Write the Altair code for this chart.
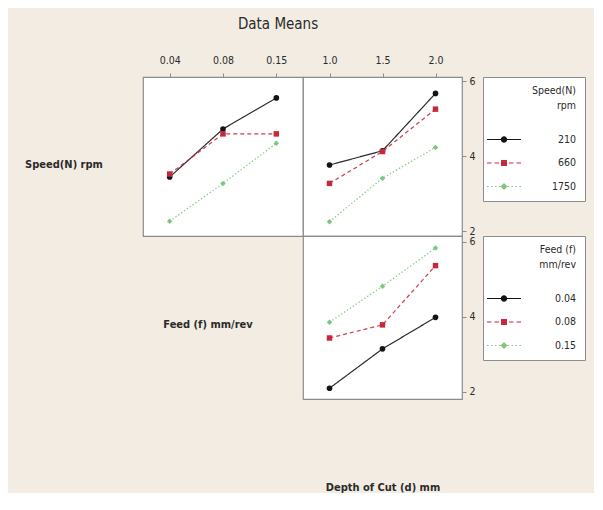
import altair as alt
import pandas as pd

# ---------------- data ----------------
speed_levels = ["210", "660", "1750"]
feed_levels = ["0.04", "0.08", "0.15"]
depth_levels = ["1.0", "1.5", "2.0"]

# Speed(N) means across Feed levels
speed210_by_feed = [3.44, 4.72, 5.55]
speed660_by_feed = [3.52, 4.59, 4.59]
speed1750_by_feed = [2.26, 3.27, 4.34]

# Speed(N) means across Depth of Cut levels
speed210_by_depth = [3.76, 4.14, 5.67]
speed660_by_depth = [3.27, 4.12, 5.25]
speed1750_by_depth = [2.25, 3.41, 4.23]

# Feed (f) means across Depth of Cut levels
feed004_by_depth = [2.10, 3.15, 3.99]
feed008_by_depth = [3.44, 3.79, 5.37]
feed015_by_depth = [3.86, 4.82, 5.84]

y_ticks = [2, 4, 6]
top_ydomain = [1.867, 6.107]
bottom_ydomain = [1.813, 6.16]

title_text = "Data Means"
speed_label = "Speed(N) rpm"
feed_label = "Feed (f) mm/rev"
depth_label = "Depth of Cut (d) mm"
speed_legend_title = ["Speed(N)", "rpm"]
feed_legend_title = ["Feed (f)", "mm/rev"]

# ---------------- styling ----------------
FONT = "Liberation Sans Narrow, DejaVu Sans Condensed, Arial Narrow, sans-serif"
TXT = "#2b2b2b"
GRAY = "#8c8c8c"
BG = "#f2ece3"
COLORS = ["#141414", "#c32a3c", "#7cc77c"]
DASHES = [[1, 0], [4, 3], [1.5, 2]]
SHAPES = ["circle", "square", "diamond"]
SIZES = [32, 30, 30]


def frame(xlevels, groups, series):
    rows = []
    for g, vals in zip(groups, series):
        for lv, v in zip(xlevels, vals):
            rows.append({"level": lv, "group": g, "mean": v})
    return pd.DataFrame(rows)


# legend symbols: a line with the marker in the middle (custom SVG paths)
U = 7.0  # pixels per path unit for symbolSize 196


def p(v):
    return v / U


def rect(a, b, h):
    return f"M{p(a):.3f},{-p(h):.3f}H{p(b):.3f}V{p(h):.3f}H{p(a):.3f}Z"


def circle(r):
    r = p(r)
    return f"M{r:.3f},0A{r:.3f},{r:.3f},0,1,1,{-r:.3f},0A{r:.3f},{r:.3f},0,1,1,{r:.3f},0Z"


def square(h):
    return rect(-h, h, h)


def diamond(r):
    r = p(r)
    return f"M0,{-r:.3f}L{r:.3f},0L0,{r:.3f}L{-r:.3f},0Z"


half = 0.55
solid_path = rect(-17, 17, half) + circle(3.2)
dash_segs = [(-17, -12.5), (-9.5, -5), (5, 9.5), (12.5, 17)]
dashed_path = "".join(rect(a, b, half) for a, b in dash_segs) + square(3.0)
dot_segs = [(-17, -15.5), (-13, -11.5), (-9, -7.5), (-5, -3.5),
            (3.5, 5), (7.5, 9), (11.5, 13), (15.5, 17)]
dotted_path = "".join(rect(a, b, half) for a, b in dot_segs) + diamond(3.4)
LEGEND_PATHS = [solid_path, dashed_path, dotted_path]


def make_legend(title, lx, ly):
    return alt.Legend(
        title=title, orient="none", legendX=lx, legendY=ly,
        strokeColor=GRAY, fillColor="white", padding=9,
        titleAlign="right", titleAnchor="end", titleFont=FONT,
        titleFontSize=10.5, titleFontWeight="normal", titleColor=TXT,
        titleLineHeight=15, titlePadding=21,
        labelAlign="right", labelOffset=65, labelFont=FONT,
        labelFontSize=10.5, labelColor=TXT,
        symbolSize=196, symbolOffset=5, symbolStrokeWidth=0,
        rowPadding=10.5,
    )


def panel(df, xlevels, glevels, ydomain, w, h, xaxis, yaxis, legend=None):
    base = alt.Chart(df)
    x = alt.X("level:N", scale=alt.Scale(type="point", domain=xlevels, padding=0.5), axis=xaxis)
    y = alt.Y("mean:Q", scale=alt.Scale(domain=ydomain, nice=False, zero=False), axis=yaxis)
    layers = []
    if legend is not None:
        layers.append(
            base.transform_filter("false").mark_point(filled=True, opacity=1).encode(
                x=x, y=y,
                color=alt.Color("group:N", scale=alt.Scale(domain=glevels, range=COLORS), legend=legend),
                shape=alt.Shape("group:N", scale=alt.Scale(domain=glevels, range=LEGEND_PATHS), legend=legend),
            )
        )
    for g, col, dash in zip(glevels, COLORS, DASHES):
        layers.append(
            base.transform_filter(alt.datum.group == g)
            .mark_line(color=col, strokeDash=dash, strokeWidth=1.2, opacity=0.9)
            .encode(x=x, y=y)
        )
    for g, col, shp, sz in zip(glevels, COLORS, SHAPES, SIZES):
        layers.append(
            base.transform_filter(alt.datum.group == g)
            .mark_point(shape=shp, filled=True, color=col, size=sz, opacity=1)
            .encode(x=x, y=y)
        )
    return alt.layer(*layers).properties(
        width=w, height=h, view=alt.ViewBackground(fill="white", stroke=GRAY, strokeWidth=1.2)
    )


top_x_axis = alt.Axis(orient="top", title=None, domain=False, grid=False, tickSize=4,
                      tickColor=GRAY, labelPadding=8, labelFont=FONT, labelFontSize=10.5,
                      labelColor=TXT, labelAngle=0)
right_y_axis = alt.Axis(orient="right", title=None, values=y_ticks, domain=False, grid=False,
                        tickSize=4, tickColor=GRAY, labelPadding=3, labelFont=FONT,
                        labelFontSize=10.5, labelColor=TXT)
speed_y_axis = alt.Axis(orient="left", labels=False, ticks=False, domain=False, grid=False,
                        title=speed_label, titleAngle=0, titleAlign="center",
                        titleBaseline="middle", titleX=-79.5, titleY=87, titleFont=FONT,
                        titleFontSize=11, titleFontWeight="bold", titleColor=TXT)
depth_x_axis = alt.Axis(orient="bottom", labels=False, ticks=False, domain=False, grid=False,
                        title=depth_label, titlePadding=82, titleFont=FONT,
                        titleFontSize=11, titleFontWeight="bold", titleColor=TXT)

df1 = frame(feed_levels, speed_levels, [speed210_by_feed, speed660_by_feed, speed1750_by_feed])
df2 = frame(depth_levels, speed_levels, [speed210_by_depth, speed660_by_depth, speed1750_by_depth])
df3 = frame(depth_levels, feed_levels, [feed004_by_depth, feed008_by_depth, feed015_by_depth])

p1 = panel(df1, feed_levels, speed_levels, top_ydomain, 160, 159, top_x_axis, speed_y_axis)
p2 = panel(df2, depth_levels, speed_levels, top_ydomain, 159, 159, top_x_axis, right_y_axis,
           legend=make_legend(speed_legend_title, 180, 0))
p3 = panel(df3, depth_levels, feed_levels, bottom_ydomain, 159, 163, depth_x_axis, right_y_axis,
           legend=make_legend(feed_legend_title, 180, 0))

filler = alt.Chart(pd.DataFrame({"label": [feed_label]})).mark_text(
    font=FONT, fontSize=11, fontWeight="bold", color=TXT, dx=-15, dy=7.5
).encode(text="label:N").properties(
    width=160, height=163, view=alt.ViewBackground(stroke="transparent", fill="transparent")
)

chart = alt.concat(
    p1, p2, filler, p3, columns=2, spacing=0, bounds="flush", align="each"
).resolve_scale(
    color="independent", shape="independent"
).resolve_legend(
    color="independent", shape="independent"
).properties(
    title=alt.TitleParams(title_text, font=FONT, fontSize=15, fontWeight="normal",
                          color=TXT, anchor="middle", dx=-27, offset=22),
    background=BG,
    padding={"left": 16, "top": 9, "right": 7, "bottom": 0},
)

chart.save("out.html", embed_options={"renderer": "svg", "actions": False})
